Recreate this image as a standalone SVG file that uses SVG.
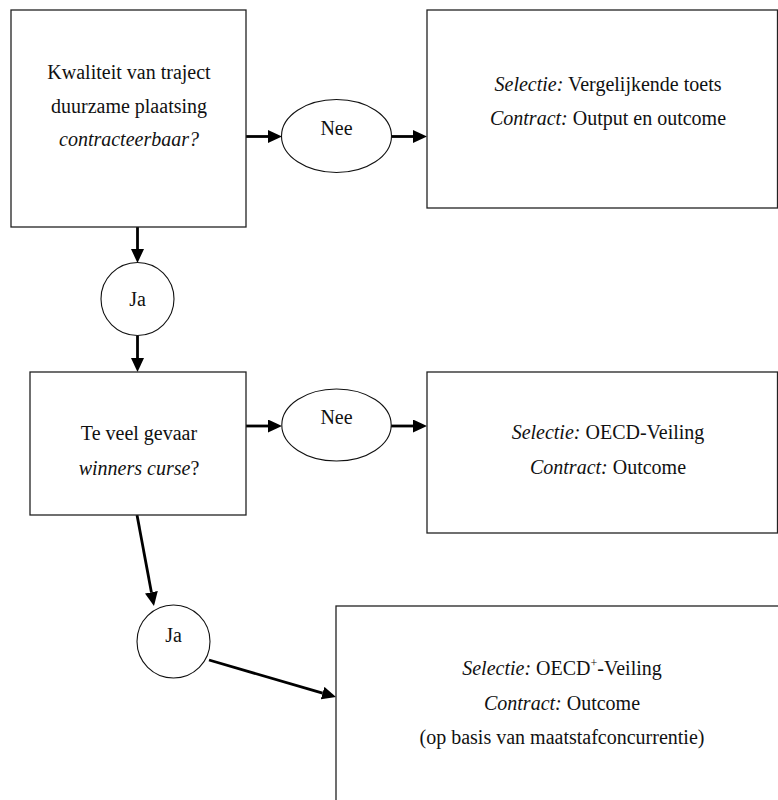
<svg xmlns="http://www.w3.org/2000/svg" width="778" height="800" viewBox="0 0 778 800">
<style>
  .box { fill: #fff; stroke: #222; stroke-width: 1.3; }
  .oval { fill: #fff; stroke: #111; stroke-width: 1.1; }
  .t { font-family: "Liberation Serif", "Times New Roman", serif; font-size: 20px; fill: #111; text-anchor: middle; }
  .i { font-style: italic; }
  .conn { stroke: #000; stroke-width: 2.8; fill: none; marker-end: url(#arrow); }
</style>
<defs>
  <marker id="arrow" markerUnits="userSpaceOnUse" markerWidth="14" markerHeight="13" refX="0" refY="6.5" orient="auto">
    <path d="M0,0 L14,6.5 L0,13 z" fill="#000"/>
  </marker>
</defs>
<rect width="778" height="800" fill="#fff"/>

<g id="connectors">
  <line class="conn" x1="246" y1="136.5" x2="268" y2="136.5"/>
  <line class="conn" x1="391.5" y1="136.5" x2="413" y2="136.5"/>
  <line class="conn" x1="137.5" y1="227" x2="137.5" y2="249"/>
  <line class="conn" x1="137.5" y1="335.5" x2="137.5" y2="358"/>
  <line class="conn" x1="246" y1="426" x2="268" y2="426"/>
  <line class="conn" x1="391" y1="426" x2="413" y2="426"/>
  <line class="conn" x1="137" y1="515" x2="151.4" y2="592.2"/>
  <line class="conn" x1="209" y1="660" x2="322.6" y2="693.1"/>
</g>

<g id="q1">
  <rect class="box" x="11" y="10" width="235" height="217"/>
  <text class="t" x="129" y="79">Kwaliteit van traject</text>
  <text class="t" x="129" y="113">duurzame plaatsing</text>
  <text class="t i" x="129" y="146">contracteerbaar?</text>
</g>

<g id="nee1">
  <ellipse class="oval" cx="336.5" cy="136" rx="55" ry="36.5"/>
  <text class="t" x="336.5" y="135">Nee</text>
</g>

<g id="r1">
  <rect class="box" x="427" y="10" width="350.5" height="198"/>
  <text class="t" x="608" y="91"><tspan class="i">Selectie:</tspan> Vergelijkende toets</text>
  <text class="t" x="608" y="125"><tspan class="i">Contract:</tspan> Output en outcome</text>
</g>

<g id="ja1">
  <circle class="oval" cx="137.5" cy="299" r="36.5"/>
  <text class="t" x="137.5" y="306">Ja</text>
</g>

<g id="q2">
  <rect class="box" x="30" y="372" width="216" height="143"/>
  <text class="t" x="139" y="440">Te veel gevaar</text>
  <text class="t" x="139" y="475"><tspan class="i">winners curse</tspan>?</text>
</g>

<g id="nee2">
  <ellipse class="oval" cx="336.5" cy="425" rx="54.7" ry="36"/>
  <text class="t" x="336.5" y="424">Nee</text>
</g>

<g id="r2">
  <rect class="box" x="427" y="372" width="350.5" height="161"/>
  <text class="t" x="608" y="439"><tspan class="i">Selectie:</tspan> OECD-Veiling</text>
  <text class="t" x="608" y="474"><tspan class="i">Contract:</tspan> Outcome</text>
</g>

<g id="ja2">
  <circle class="oval" cx="173.5" cy="641.5" r="36.5"/>
  <text class="t" x="173.5" y="642">Ja</text>
</g>

<g id="r3">
  <rect class="box" x="336" y="606" width="460" height="220"/>
  <text class="t" x="562" y="675"><tspan class="i">Selectie:</tspan> OECD<tspan font-size="12" dy="-8">+</tspan><tspan dy="8">-Veiling</tspan></text>
  <text class="t" x="562" y="710"><tspan class="i">Contract:</tspan> Outcome</text>
  <text class="t" x="562" y="744">(op basis van maatstafconcurrentie)</text>
</g>
</svg>
